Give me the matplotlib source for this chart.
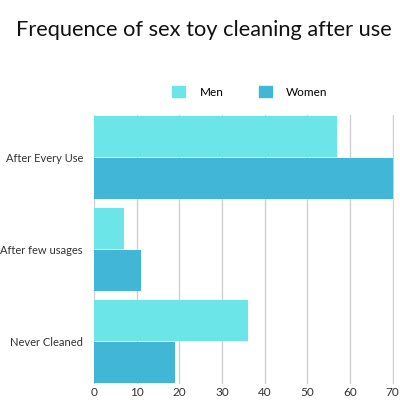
import numpy as np
import matplotlib.pyplot as plt
from matplotlib.patches import Patch

# Chart data
categories = ['After Every Use', 'After few usages', 'Never Cleaned']
men = [57, 7, 36]
women = [70, 11, 19]
series_names = ['Men', 'Women']
x_ticks = [0, 10, 20, 30, 40, 50, 60, 70]

men_color = '#6ce5e8'
women_color = '#41b6d6'

plt.rcParams['font.family'] = ['Lato', 'DejaVu Sans']

fig = plt.figure(figsize=(4, 4), dpi=100)
ax = fig.add_axes([0.235, 0.04, 0.75, 0.673])

y = np.arange(len(categories))
h = 0.445
ax.barh(y - 0.227, men, height=h, color=men_color, zorder=2)
ax.barh(y + 0.227, women, height=h, color=women_color, zorder=2)

ax.set_xlim(0, 70.3)
ax.set_ylim(2.46, -0.46)
ax.set_xticks(x_ticks)
ax.set_yticks(y)
ax.set_yticklabels(categories)
ax.tick_params(axis='y', length=0, labelsize=8, colors='#333333', pad=8)
ax.tick_params(axis='x', length=0, labelsize=8.5, colors='#333333', pad=2)
ax.grid(axis='x', color='#d0d0d0', linewidth=1, zorder=1)
for s in ax.spines.values():
    s.set_visible(False)

fig.text(0.51, 0.925, 'Frequence of sex toy cleaning after use', ha='center',
         va='center', fontsize=15.7, color='#111111')

handles = [Patch(color=men_color), Patch(color=women_color)]
fig.legend(handles, series_names, loc='center', bbox_to_anchor=(0.625, 0.77),
           ncol=2, frameon=False, fontsize=8.5, handlelength=1.1, handleheight=1.1,
           columnspacing=3, handletextpad=1.2)

fig.savefig('out.png', dpi=100)
